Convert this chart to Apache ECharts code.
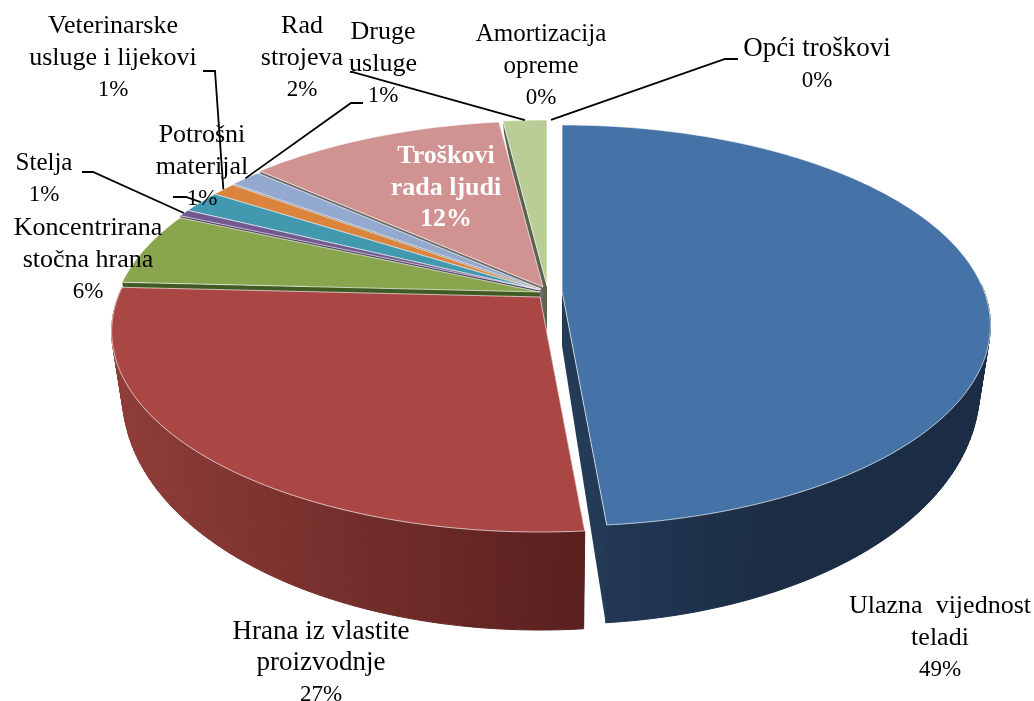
<!DOCTYPE html>
<html>
<head>
<meta charset="utf-8">
<style>
  html, body { margin: 0; background: #fff; }
  #chart { width: 1034px; height: 701px; }
</style>
<script src="https://cdn.jsdelivr.net/npm/echarts@6/dist/echarts.min.js"></script>
</head>
<body>
<div id="chart"></div>
<script>
// clockwise from 12 o'clock
const sliceNames = [
  "Ulazna vijednost teladi", "Hrana iz vlastite proizvodnje", "Koncentrirana stočna hrana",
  "Stelja", "Potrošni materijal", "Veterinarske usluge i lijekovi", "Druge usluge",
  "Troškovi rada ljudi", "Rad strojeva", "Amortizacija opreme", "Opći troškovi",
];
const sliceValues = [48.6, 27.2, 5.9, 0.55, 1.8, 1.1, 1.4, 11.5, 1.95, 0, 0];
const sliceLabels = ["49%", "27%", "6%", "1%", "1%", "1%", "1%", "12%", "2%", "0%", "0%"];
const sliceColors = ["#4572A7", "#AA4643", "#89A54E", "#71588F", "#4198AF", "#DB843D", "#93A9CF", "#D19392", "#B9CD96", "#888", "#888"];
const wallColors = [
  ["#243b58", "#1b2d45", "#1b2d45"], ["#8f3d39", "#5a201e"], ["#3f5a22"], ["#4a3a60"],
  ["#2a6474"], ["#8f5628"], ["#70757f"], ["#6e6a68"],
  ["#5d6350"], ["#888"], ["#888"],
];

// shift of each slice's apex from the pie centre, px
const sliceShift = [[17, 1], [-5, 7], [-5, 2], [-5, 0], [-5, 0], [-5, 0], [-4, -1], [-2, -3], [2, -4], [6, -4], [6, -4]];

// perspective disc: P tilts the far side away, the lower disc is a bit narrower
const CX = 545, CY = 290, RX = 422, RY = 194.6, P = 0.172;
const DEPTH_MID = 55, DEPTH_TILT = 43, LOW_SCALE = 0.975;

const total = sliceValues.reduce((a, b) => a + b, 0);
const starts = [];
sliceValues.reduce((acc, v, i) => { starts[i] = acc; return acc + v; }, 0);
const angleOf = (pct) => (pct / total) * Math.PI * 2;

function project(i, angle, r, level) {
  const u = Math.sin(angle) * r, v = -Math.cos(angle) * r;
  const w = 1 / (1 - P * v);
  return [
    CX + sliceShift[i][0] + RX * u * w * (level ? LOW_SCALE : 1),
    CY + sliceShift[i][1] + RY * v * w + level * (DEPTH_MID + DEPTH_TILT * v),
  ];
}

function arc(i, a0, a1, level) {
  const n = Math.max(2, Math.ceil((a1 - a0) / (Math.PI / 180)));
  const pts = [];
  for (let k = 0; k <= n; k++) pts.push(project(i, a0 + ((a1 - a0) * k) / n, 1, level));
  return pts;
}

function renderSlice(params, api) {
  const i = api.value(0);
  const a0 = angleOf(starts[i]);
  const a1 = angleOf(starts[i] + sliceValues[i]);
  if (a1 <= a0) return { type: "group", children: [] };
  const rank = (sliceValues.length - i) * 10;
  const apex = project(i, 0, 0, 0), apexLow = project(i, 0, 0, 1);
  const top = arc(i, a0, a1, 0), low = arc(i, a0, a1, 1);
  const walls = wallColors[i];
  const cutWall = (a) => ({
    type: "polygon",
    z2: rank,
    shape: { points: [apex, project(i, a, 1, 0), project(i, a, 1, 1), apexLow] },
    style: { fill: i === 0 ? walls[0] : walls[walls.length - 1] },
  });
  // outer wall as thin strips so the silhouette between both discs stays filled
  const strips = [];
  const xs = top.map((p) => p[0]);
  const xMin = Math.min(...xs), xMax = Math.max(...xs);
  for (let k = 0; k < top.length - 1; k++) {
    const a = a0 + ((a1 - a0) * k) / (top.length - 1);
    if (Math.cos(a) > 0.05) continue; // far side is hidden by the top
    const t = (top[k][0] - xMin) / (xMax - xMin || 1);
    const fill = walls.length === 1 ? walls[0] : echarts.color.lerp(t, walls);
    strips.push({
      type: "polygon",
      z2: rank + 1,
      shape: { points: [top[k], top[k + 1], low[k + 1], low[k]] },
      style: { fill, stroke: fill, lineWidth: 1 },
    });
  }
  return {
    type: "group",
    children: [
      cutWall(a0),
      cutWall(a1),
      ...strips,
      {
        type: "polygon",
        z2: rank + 2,
        shape: { points: [apex].concat(top) },
        style: { fill: sliceColors[i], stroke: "rgba(255,255,255,0.65)", lineWidth: 1 },
      },
    ],
  };
}

// label centre and leader start, in chart px; leader end is taken from the slice
const labelLayout = [
  { x: 940, y: 638, size: 26, lines: ["Ulazna  vijednost", "teladi"] },
  { x: 321, y: 663, size: 27, lines: ["Hrana iz vlastite", "proizvodnje"] },
  { x: 88, y: 260, size: 26, lines: ["Koncentrirana", "stočna hrana"] },
  { x: 44, y: 179, size: 25, lines: ["Stelja"], leader: [[82, 172], [93, 172]] },
  { x: 202, y: 167, size: 26, lines: ["Potrošni", "materijal"], leader: [[173, 197], [186, 197]] },
  { x: 113, y: 58, size: 26, lines: ["Veterinarske", "usluge i lijekovi"], leader: [[203, 71], [215, 71]] },
  { x: 383, y: 64, size: 26, lines: ["Druge", "usluge"], leader: [[363, 103], [351, 103]] },
  { x: 446, y: 188, size: 26, lines: ["Troškovi", "rada ljudi"], fill: "#fff", bold: true },
  { x: 302, y: 58, size: 26, lines: ["Rad", "strojeva"], leader: [[350, 72], [352, 72]] },
  { x: 541, y: 66, size: 25, lines: ["Amortizacija", "opreme"] },
  { x: 817, y: 65, size: 27, lines: ["Opći troškovi"], leader: [[738, 59], [725, 59]] },
];
const LINE_STEP = 31.5, PCT_SIZE = 23;

const graphics = [];
labelLayout.forEach((l, i) => {
  if (l.leader) {
    const mid = angleOf(starts[i] + sliceValues[i] / 2);
    graphics.push({
      type: "polyline",
      z: 10,
      shape: { points: l.leader.concat([project(i, mid, 1, 0)]) },
      style: { stroke: "#000", lineWidth: 1.8, fill: null },
    });
  }
  const rows = l.lines.concat(sliceLabels[i]);
  rows.forEach((row, k) => {
    graphics.push({
      type: "text",
      z: 11,
      x: l.x,
      y: l.y + (k - (rows.length - 1) / 2) * LINE_STEP,
      style: {
        text: row,
        fontFamily: "Liberation Serif",
        fontSize: k === rows.length - 1 && !l.bold ? PCT_SIZE : l.size,
        fontWeight: l.bold ? "bold" : "normal",
        fill: l.fill || "#000",
        align: "center",
        verticalAlign: "middle",
      },
    });
  });
});

const chart = echarts.init(document.getElementById("chart"), null, { renderer: "canvas" });
chart.setOption({
  animation: false,
  backgroundColor: "#fff",
  graphic: { elements: graphics },
  series: [{
    type: "custom",
    coordinateSystem: "none",
    silent: true,
    renderItem: renderSlice,
    // last slice first, so the big front slices paint over the back ones
    data: sliceValues.map((v, i) => ({ name: sliceNames[i], value: [i, v] })).reverse(),
  }],
});
</script>
</body>
</html>
